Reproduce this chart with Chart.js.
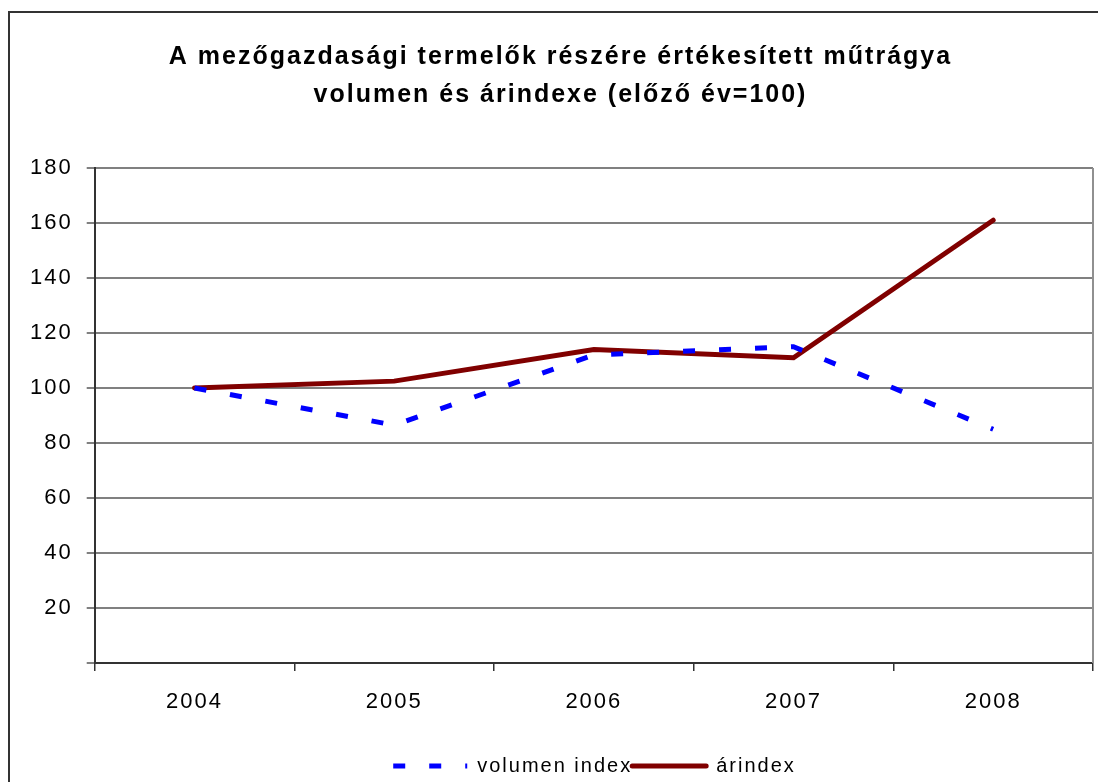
<!DOCTYPE html>
<html>
<head>
<meta charset="utf-8">
<script src="https://cdn.jsdelivr.net/npm/chart.js@4/dist/chart.umd.min.js"></script>
<style>
  html, body { margin: 0; padding: 0; background: #fff; }
  #wrap { width: 1098px; height: 782px; position: relative; }
</style>
</head>
<body>
<div id="wrap"><canvas id="fertilizer"></canvas></div>
<script>
// műtrágya volumen- és árindex

const years = ["2004", "2005", "2006", "2007", "2008"];
const volumenIndex = [100, 86.5, 112, 115, 85];
const arIndex = [100, 102.5, 114, 111, 161];
const yTicks = [0, 20, 40, 60, 80, 100, 120, 140, 160, 180];

const titleLines = [
    "A mezőgazdasági termelők részére értékesített műtrágya",
    "volumen és árindexe (előző év=100)"
];

const FONT = "'Liberation Sans', Arial, sans-serif";

// the Excel original has wide letter spacing everywhere
const spacingPlugin = {
    id: "spacing",
    beforeLayout(chart) { chart.ctx.letterSpacing = "2px"; },
    afterLayout(chart) {
        // legend and title sit a bit right of centre in the original
        if (chart.legend) {
            chart.legend.left += 40; chart.legend.right += 40;
            chart.legend.top += 4; chart.legend.bottom += 4;
        }
        if (chart.titleBlock) { chart.titleBlock.left += 6; chart.titleBlock.right += 6; }
    },
    beforeDraw(chart) { chart.ctx.letterSpacing = "2px"; }
};

// outer frame + right edge of plot area
const framePlugin = {
    id: "frame",
    afterDraw(chart) {
        const ctx = chart.ctx;
        const a = chart.chartArea;
        ctx.save();
        ctx.strokeStyle = "#909090";
        ctx.lineWidth = 2;
        ctx.beginPath();
        ctx.moveTo(a.right, a.top);
        ctx.lineTo(a.right, a.bottom);
        ctx.stroke();
        ctx.strokeStyle = "#333";
        ctx.lineWidth = 2;
        ctx.strokeRect(9, 12, 1200, 900);
        ctx.restore();
    }
};

new Chart(document.getElementById("fertilizer"), {
    type: "line",
    data: {
        labels: years,
        datasets: [{
            label: "volumen index",
            data: volumenIndex,
            borderColor: "#0000FF",
            backgroundColor: "#0000FF",
            borderWidth: 5,
            borderDash: [12, 24],
            borderCapStyle: "butt",
            pointRadius: 0,
            tension: 0,
            fill: false
        }, {
            label: "árindex",
            data: arIndex,
            borderColor: "#800000",
            backgroundColor: "#800000",
            borderWidth: 5,
            borderCapStyle: "round",
            pointRadius: 0,
            tension: 0,
            fill: false
        }]
    },
    options: {
        responsive: true,
        maintainAspectRatio: false,
        animation: false,
        layout: {
            padding: { top: 38, right: 5, left: 16, bottom: 0 }
        },
        plugins: {
            title: {
                display: true,
                text: titleLines,
                color: "#000",
                font: { family: FONT, size: 25, weight: "bold", lineHeight: 1.52 },
                padding: { top: 0, bottom: 54 }
            },
            legend: {
                position: "bottom",
                labels: {
                    color: "#000",
                    font: { family: FONT, size: 20 },
                    usePointStyle: true,
                    pointStyle: "line",
                    pointStyleWidth: 74,
                    padding: 0,
                    generateLabels(chart) {
                        const items = Chart.defaults.plugins.legend.labels.generateLabels(chart);
                        items.forEach(it => {
                            const ds = chart.data.datasets[it.datasetIndex];
                            it.lineDash = ds.borderDash || [];
                            it.lineWidth = ds.borderWidth;
                            it.lineCap = ds.borderCapStyle;
                            it.strokeStyle = ds.borderColor;
                        });
                        return items;
                    }
                }
            },
            tooltip: { enabled: false }
        },
        scales: {
            x: {
                offset: true,
                afterFit(scale) { scale.height = 89; },
                grid: {
                    offset: true,
                    drawOnChartArea: false,
                    drawTicks: true,
                    tickLength: 8,
                    color: "#333",
                    lineWidth: 1.5
                },
                border: { color: "#333", width: 2 },
                ticks: {
                    color: "#000",
                    font: { family: FONT, size: 22 },
                    padding: 18
                }
            },
            y: {
                min: 0,
                max: 180,
                afterBuildTicks(axis) {
                    axis.ticks = yTicks.map(v => ({ value: v }));
                },
                grid: {
                    color: "#808080",
                    lineWidth: 2,
                    tickLength: 8
                },
                border: { color: "#333", width: 2 },
                ticks: {
                    color: "#000",
                    font: { family: FONT, size: 22 },
                    padding: 14,
                    callback: v => (v === 0 ? "" : v)
                }
            }
        }
    },
    plugins: [spacingPlugin, framePlugin]
});
</script>
</body>
</html>
